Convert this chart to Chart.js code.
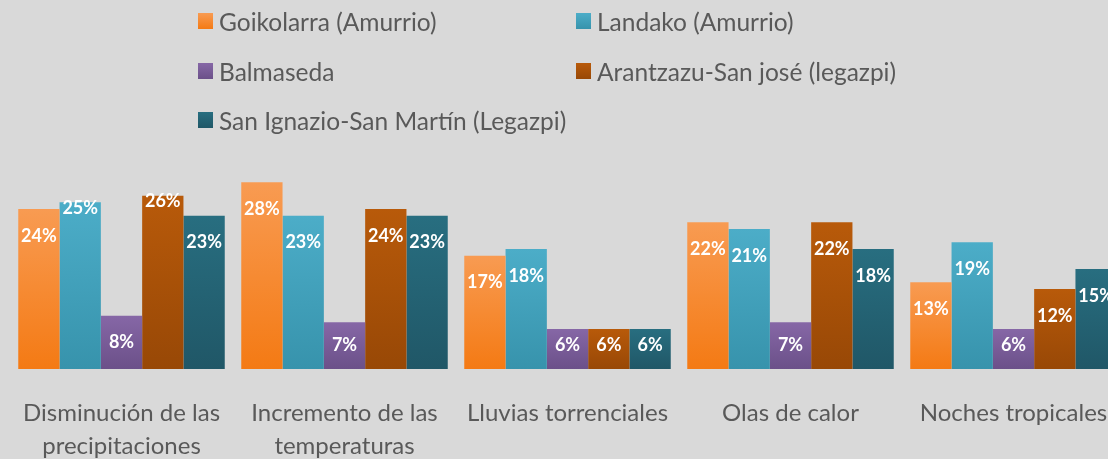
<!DOCTYPE html>
<html><head><meta charset="utf-8">
<script src="https://cdn.jsdelivr.net/npm/chart.js@4/dist/chart.umd.min.js"></script>
<style>
html,body{margin:0;padding:0;background:#d9d9d9;overflow:hidden;width:1108px;height:459px;}
#wrap{position:absolute;left:0;top:0;width:1126px;height:459px;}
#legend{position:absolute;left:0;top:0;width:1108px;height:150px;font-family:Lato,"Open Sans",sans-serif;font-size:24.5px;color:#595959;}
.li{position:absolute;display:flex;align-items:center;white-space:nowrap;height:30px;}
.sw{width:15px;height:16px;margin-right:6px;flex:none;}
</style></head><body>
<div id="wrap"><canvas id="c" width="1126" height="459"></canvas></div>
<div id="legend"></div>
<script>
const categories = [["Disminución de las","precipitaciones"],["Incremento de las","temperaturas"],"Lluvias torrenciales","Olas de calor","Noches tropicales"];
const seriesNames = ["Goikolarra (Amurrio)","Landako (Amurrio)","Balmaseda","Arantzazu-San josé (legazpi)","San Ignazio-San Martín (Legazpi)"];
const goikolarra = [24,28,17,22,13];
const landako    = [25,23,18,21,19];
const balmaseda  = [8,7,6,7,6];
const arantzazu  = [26,24,6,22,12];
const sanIgnazio = [23,23,6,18,15];
const seriesValues = [goikolarra, landako, balmaseda, arantzazu, sanIgnazio];
const topColors    = ["#f89b52","#4cadc8","#8667a6","#b85a0a","#286e80"];
const bottomColors = ["#f47a14","#3793ac","#6b5089","#984806","#205767"];
const labelsAtTop = [[1,0],[3,0]];

function grad(i){
  return function(ctx){
    const c = ctx.chart, y = c.scales && c.scales.y;
    if(!y || !c.chartArea || ctx.raw === undefined) return topColors[i];
    const g = c.ctx.createLinearGradient(0, y.getPixelForValue(ctx.raw), 0, y.getPixelForValue(0));
    g.addColorStop(0, topColors[i]);
    g.addColorStop(1, bottomColors[i]);
    return g;
  };
}

const labelPlugin = {
  id:'vlabels',
  afterDatasetsDraw(chart){
    const ctx = chart.ctx;
    ctx.save();
    ctx.font = 'bold 18px Lato, "Open Sans", sans-serif';
    ctx.fillStyle = '#ffffff';
    ctx.textAlign = 'center';
    ctx.textBaseline = 'middle';
    chart.data.datasets.forEach((ds, di) => {
      const meta = chart.getDatasetMeta(di);
      meta.data.forEach((bar, idx) => {
        const atTop = labelsAtTop.some(p => p[0] === di && p[1] === idx);
        let y = atTop ? bar.y + 6 : Math.min(bar.y + 27, bar.base - 24);
        ctx.fillText(ds.data[idx] + '%', bar.x, y);
      });
    });
    ctx.restore();
  }
};

const chart = new Chart(document.getElementById('c'), {
  type:'bar',
  data:{
    labels:categories,
    datasets: seriesNames.map((n,i)=>({
      label:n, data:seriesValues[i], backgroundColor:grad(i), borderWidth:0,
      categoryPercentage:0.926, barPercentage:1
    }))
  },
  options:{
    responsive:false, devicePixelRatio:1, animation:false,
    layout:{padding:{left:10,right:1,top:169,bottom:0}},
    plugins:{legend:{display:false}, tooltip:{enabled:false}},
    scales:{
      y:{display:false,min:0,max:30},
      x:{
        grid:{display:false, drawTicks:false}, border:{display:false},
        ticks:{color:'#595959', font:{family:'Lato, "Open Sans", sans-serif', size:24, lineHeight:1.375}, padding:28, maxRotation:0, autoSkip:false},
        afterFit(s){ s.height = 90; s.paddingLeft = 0; s.paddingRight = 0; }
      }
    }
  },
  plugins:[labelPlugin]
});

const leg = document.getElementById('legend');
const colX = [198, 576], rowY = [21, 71, 120];
seriesNames.forEach((n,i)=>{
  const d = document.createElement('div');
  d.className = 'li';
  d.style.left = colX[i%2] + 'px';
  d.style.top = (rowY[Math.floor(i/2)] - 15) + 'px';
  const s = document.createElement('span');
  s.className = 'sw';
  s.style.background = 'linear-gradient(' + topColors[i] + ',' + bottomColors[i] + ')';
  const t = document.createElement('span');
  t.textContent = n;
  d.appendChild(s); d.appendChild(t);
  leg.appendChild(d);
});
</script>
</body></html>
